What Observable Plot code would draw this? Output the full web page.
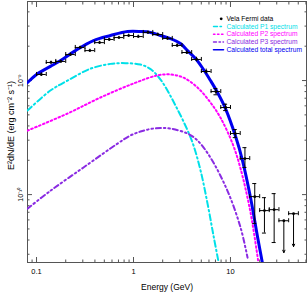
<!DOCTYPE html>
<html><head><meta charset="utf-8">
<script src="https://cdn.jsdelivr.net/npm/d3@7"></script>
<script src="https://cdn.jsdelivr.net/npm/@observablehq/plot@0.6"></script>
<style>html,body{margin:0;padding:0;background:#fff}svg{display:block}</style>
</head><body><div id="chart"></div>
<script>
// ---- Vela Fermi data points (GeV, erg cm^-2 s^-1)
const energy = [0.112, 0.141, 0.178, 0.224, 0.282, 0.355, 0.447, 0.562, 0.708, 0.891, 1.12, 1.41, 1.78, 2.24, 2.82, 3.55, 4.47, 5.62, 7.08, 8.91, 11.2, 14.1, 17.8, 22.4, 28.2];
const flux = [1.13e-9, 1.44e-9, 1.47e-9, 1.69e-9, 1.95e-9, 1.83e-9, 2.15e-9, 2.29e-9, 2.38e-9, 2.48e-9, 2.43e-9, 2.64e-9, 2.53e-9, 2.34e-9, 2.03e-9, 1.76e-9, 1.53e-9, 1.20e-9, 8.0e-10, 5.8e-10, 3.43e-10, 2.07e-10, 9.6e-11, 7.24e-11, 7.38e-11];
const energyLo = [0.1, 0.126, 0.158, 0.2, 0.251, 0.316, 0.398, 0.501, 0.631, 0.794, 1.0, 1.26, 1.58, 2.0, 2.51, 3.16, 3.98, 5.01, 6.31, 7.94, 10, 12.6, 15.8, 20, 25.1];
const energyHi = [0.126, 0.158, 0.2, 0.251, 0.316, 0.398, 0.501, 0.631, 0.794, 1.0, 1.26, 1.58, 2.0, 2.51, 3.16, 3.98, 5.01, 6.31, 7.94, 10, 12.6, 15.8, 20, 25.1, 31.6];
const fluxLo = [1.09e-9, 1.40e-9, 1.43e-9, 1.64e-9, 1.90e-9, 1.78e-9, 2.09e-9, 2.23e-9, 2.32e-9, 2.41e-9, 2.36e-9, 2.56e-9, 2.45e-9, 2.26e-9, 1.96e-9, 1.69e-9, 1.46e-9, 1.14e-9, 7.5e-10, 5.45e-10, 3.16e-10, 1.73e-10, 5.57e-11, 4.6e-11, 3.8e-11];
const fluxHi = [1.17e-9, 1.48e-9, 1.51e-9, 1.74e-9, 2.00e-9, 1.88e-9, 2.21e-9, 2.35e-9, 2.44e-9, 2.55e-9, 2.50e-9, 2.72e-9, 2.61e-9, 2.42e-9, 2.10e-9, 1.83e-9, 1.60e-9, 1.26e-9, 8.5e-10, 6.2e-10, 3.72e-10, 2.58e-10, 1.25e-10, 9.4e-11, 1.02e-10];
// upper limits
const ulEnergy = [35.5, 44.7];
const ulEnergyLo = [31.6, 39.8];
const ulEnergyHi = [39.8, 50.1];
const ulFlux = [5.9e-11, 6.8e-11];
const ulArrowEnd = [3.1e-11, 3.5e-11];

// ---- model curves
const p1E = [0.0807, 0.139, 0.209, 0.360, 0.579, 0.827, 1.18, 1.50, 1.90, 2.30, 2.71, 3.28, 4.06, 4.91, 5.80, 6.68, 7.70];
const p1F = [5.46e-10, 8.17e-10, 1.0e-9, 1.27e-9, 1.40e-9, 1.42e-9, 1.38e-9, 1.26e-9, 1.02e-9, 7.85e-10, 6.04e-10, 4.37e-10, 2.86e-10, 1.63e-10, 8.34e-11, 4.37e-11, 2.33e-11];
const p2E = [0.0807, 0.209, 0.457, 1.0, 1.77, 2.41, 3.28, 4.57, 6.22, 7.88, 10.5, 12.7, 16.1, 19.4];
const p2F = [3.64e-10, 5.14e-10, 7.10e-10, 9.42e-10, 1.11e-9, 1.13e-9, 1.06e-9, 8.68e-10, 6.41e-10, 4.73e-10, 2.80e-10, 1.69e-10, 6.95e-11, 2.54e-11];
const p3E = [0.0807, 0.139, 0.305, 0.684, 0.931, 1.18, 1.50, 1.90, 2.41, 3.60, 4.57, 6.22, 9.31, 12.7, 15.0];
const p3F = [7.53e-11, 1.08e-10, 1.73e-10, 2.80e-10, 3.30e-10, 3.57e-10, 3.76e-10, 3.83e-10, 3.79e-10, 3.43e-10, 2.98e-10, 2.11e-10, 1.08e-10, 5.14e-11, 2.80e-11];
const totalE = [0.0807, 0.1, 0.139, 0.177, 0.252, 0.387, 0.579, 0.867, 1.18, 1.50, 1.90, 2.41, 3.05, 3.60, 4.36, 5.27, 6.22, 7.35, 8.88, 11.3, 13.3, 16.1, 19.0, 22.1];
const totalF = [9.6e-10, 1.13e-9, 1.33e-9, 1.50e-9, 1.83e-9, 2.24e-9, 2.48e-9, 2.69e-9, 2.69e-9, 2.64e-9, 2.48e-9, 2.33e-9, 2.11e-9, 1.83e-9, 1.56e-9, 1.25e-9, 1.0e-9, 7.85e-10, 5.68e-10, 3.23e-10, 1.99e-10, 9.4e-11, 4.28e-11, 2.15e-11];

// ---- ticks & labels
const xMajor = [0.1, 1, 10];
const xMajorLabels = ["0.1", "1", "10"];
const xMinor = [0.09, 0.2, 0.3, 0.4, 0.5, 0.6, 0.7, 0.8, 0.9, 2, 3, 4, 5, 6, 7, 8, 9, 20, 30, 40, 50, 60];
const yMajor = [1e-10, 1e-9];
const yMajorLabels = ["10\u207B\u00B9\u2070", "10\u207B\u2079"];
const yMinor = [3e-11, 4e-11, 5e-11, 6e-11, 7e-11, 8e-11, 9e-11, 2e-10, 3e-10, 4e-10, 5e-10, 6e-10, 7e-10, 8e-10, 9e-10, 2e-9, 3e-9, 4e-9];
const xLabel = "Energy (GeV)";
const yLabel = "E\u00B2dN/dE (erg cm\u207B\u00B2 s\u207B\u00B9)";
const legendLabels = ["Vela Fermi data", "Calculated P1 spectrum", "Calculated P2 spectrum", "Calculated P3 spectrum", "Calculated total spectrum"];

const C_P1 = "#00e0e8", C_P2 = "#ff00ff", C_P3 = "#8a2be2", C_TOT = "#0000f0", AX = "#555";
const D_P1 = "6,3,1.5,3", D_P2 = "1.6,2.6", D_P3 = "5,3,1.5,3,1.5,3";
const legendColors = ["#000", C_P1, C_P2, C_P3, C_TOT];
const legendDash = [null, "4,2.5,1.5,2.5", "1.5,2.5", "3,2.5,1.5,2.5", null];

const xLabelMap = new Map(xMajor.map((v, i) => [v, xMajorLabels[i]]));
const yLabelMap = new Map(yMajor.map((v, i) => [v, yMajorLabels[i]]));

const pts = energy.map((e, i) => ({e, f: flux[i], elo: energyLo[i], ehi: energyHi[i], flo: fluxLo[i], fhi: fluxHi[i]}));
const uls = ulEnergy.map((e, i) => ({e, f: ulFlux[i], elo: ulEnergyLo[i], ehi: ulEnergyHi[i], fend: ulArrowEnd[i]}));
const xbars = pts.concat(uls);
const big = pts.filter(d => d.fhi / d.flo > 1.12);
const curve = (E, F) => E.map((e, i) => ({e, f: F[i]}));

const hLine = {draw(ctx, l) { ctx.moveTo(0, 0); ctx.lineTo(l, 0); }};

const legendMarks = [];
legendLabels.forEach((lab, i) => {
  const dy = 17.3 + 7.75 * i;
  legendMarks.push(Plot.text([lab], {frameAnchor: "top-left", dx: 199, dy, text: d => d, textAnchor: "start", lineAnchor: "middle", fill: legendColors[i], fontSize: 6.7}));
  if (i === 0) {
    legendMarks.push(Plot.dot([0], {frameAnchor: "top-left", dx: 193.7, dy, r: 1.4, fill: "#000"}));
  } else {
    legendMarks.push(Plot.vector([0], {frameAnchor: "top-left", dx: 186, dy, length: 10, rotate: 0, anchor: "start", shape: hLine,
      stroke: legendColors[i], strokeWidth: i === 4 ? 1.6 : 1.4, strokeDasharray: legendDash[i]}));
  }
});

const chart = Plot.plot({
  width: 307, height: 292,
  marginLeft: 27, marginRight: 1, marginTop: 1, marginBottom: 30,
  style: {fontFamily: "'Liberation Sans', Arial, Helvetica, sans-serif", fontSize: "7px", background: "#fff", color: "#000"},
  x: {type: "log", domain: [0.0807, 60.8]},
  y: {type: "log", domain: [2.54e-11, 4.93e-9]},
  marks: [
    // ticks, all inward
    Plot.axisX({anchor: "bottom", ticks: xMajor, tickSize: -5, tickFormat: () => "", stroke: AX}),
    Plot.axisX({anchor: "bottom", ticks: xMinor, tickSize: -2.5, tickFormat: () => "", stroke: AX}),
    Plot.axisX({anchor: "top", ticks: xMajor, tickSize: -5, tickFormat: () => "", stroke: AX}),
    Plot.axisX({anchor: "top", ticks: xMinor, tickSize: -2.5, tickFormat: () => "", stroke: AX}),
    Plot.axisY({anchor: "left", ticks: yMajor, tickSize: -5, tickFormat: () => "", stroke: AX}),
    Plot.axisY({anchor: "left", ticks: yMinor, tickSize: -2.5, tickFormat: () => "", stroke: AX}),
    Plot.axisY({anchor: "right", ticks: yMajor, tickSize: -5, tickFormat: () => "", stroke: AX}),
    Plot.axisY({anchor: "right", ticks: yMinor, tickSize: -2.5, tickFormat: () => "", stroke: AX}),
    // tick labels
    Plot.axisX({anchor: "bottom", ticks: xMajor, tickSize: 0, tickPadding: 6, tickFormat: d => xLabelMap.get(d), fontSize: 7.5}),
    Plot.text(yMajor, {y: d => d, frameAnchor: "left", rotate: -90, dx: -7, textAnchor: "middle", lineAnchor: "middle", text: d => yLabelMap.get(d), fontSize: 7}),
    // axis titles
    Plot.text([xLabel], {frameAnchor: "bottom", dy: 25, textAnchor: "middle", lineAnchor: "middle", text: d => d, fontSize: 8.5}),
    Plot.text([yLabel], {frameAnchor: "left", rotate: -90, dx: -16, dy: -6.5, textAnchor: "middle", lineAnchor: "middle", text: d => d, fontSize: 9}),
    Plot.frame({stroke: AX}),
    // model curves
    Plot.line(curve(p1E, p1F), {x: "e", y: "f", stroke: C_P1, strokeWidth: 2, strokeDasharray: D_P1, curve: "catmull-rom", clip: true}),
    Plot.line(curve(p2E, p2F), {x: "e", y: "f", stroke: C_P2, strokeWidth: 2, strokeDasharray: D_P2, curve: "catmull-rom", clip: true}),
    Plot.line(curve(p3E, p3F), {x: "e", y: "f", stroke: C_P3, strokeWidth: 2, strokeDasharray: D_P3, curve: "catmull-rom", clip: true}),
    Plot.line(curve(totalE, totalF), {x: "e", y: "f", stroke: C_TOT, strokeWidth: 3, curve: "catmull-rom", clip: true}),
    // data
    Plot.ruleY(xbars, {y: "f", x1: "elo", x2: "ehi", stroke: "#000", strokeWidth: 1}),
    Plot.ruleX(xbars, {x: "elo", y1: "f", y2: "f", insetTop: -2, insetBottom: -2, stroke: "#000", strokeWidth: 1}),
    Plot.ruleX(xbars, {x: "ehi", y1: "f", y2: "f", insetTop: -2, insetBottom: -2, stroke: "#000", strokeWidth: 1}),
    Plot.ruleX(pts, {x: "e", y1: "flo", y2: "fhi", stroke: "#000", strokeWidth: 1}),
    Plot.ruleY(big, {y: "flo", x1: "e", x2: "e", insetLeft: -2, insetRight: -2, stroke: "#000", strokeWidth: 1}),
    Plot.ruleY(big, {y: "fhi", x1: "e", x2: "e", insetLeft: -2, insetRight: -2, stroke: "#000", strokeWidth: 1}),
    Plot.arrow(uls, {x1: "e", x2: "e", y1: "f", y2: "fend", stroke: "#000", strokeWidth: 1, headLength: 4, headAngle: 50}),
    Plot.dot(xbars, {x: "e", y: "f", r: 1.4, fill: "#000"}),
    ...legendMarks
  ]
});
document.getElementById("chart").appendChild(chart);
</script>
</body></html>
